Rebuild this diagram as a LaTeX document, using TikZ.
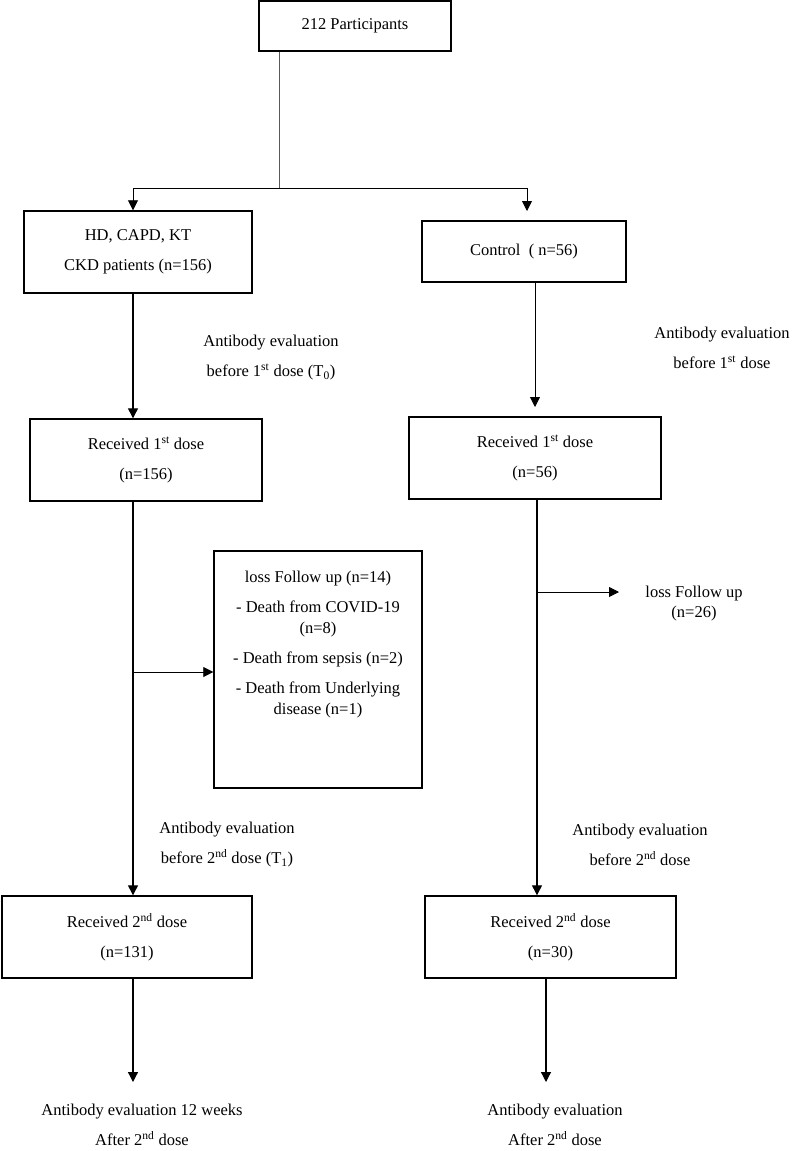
\documentclass[tikz,border=0pt]{standalone}
\usepackage{fontspec}
\setmainfont{Liberation Serif}
\usetikzlibrary{arrows.meta}
\begin{document}
\begin{tikzpicture}[x=1pt,y=-1pt,
  box/.style={draw, line width=1.4pt, inner sep=0pt, align=center, font=\fontsize{16.5}{30}\selectfont},
  lbl/.style={align=center, inner sep=0pt, font=\fontsize{16.5}{30}\selectfont},
  arr/.style={line width=1.2pt, -{Triangle[length=10pt,width=10pt]}},
  tarr/.style={line width=0.8pt, -{Triangle[length=10pt,width=10pt]}},
  ]
\useasboundingbox (0,0) rectangle (792,1151);
% boxes
\node[box, minimum width=192pt, minimum height=50pt] (top) at (355,26) {212 Participants};
\node[box, minimum width=228pt, minimum height=82pt] (hd) at (138,252) {HD, CAPD, KT\\CKD patients (n=156)};
\node[box, minimum width=204pt, minimum height=61pt] (ctrl) at (524,251.5) {Control\ \ ( n=56)};
\node[box, minimum width=232pt, minimum height=82pt] (r1L) at (146,460) {Received 1\textsuperscript{st} dose\\(n=156)};
\node[box, minimum width=252pt, minimum height=82pt] (r1R) at (535,458) {Received 1\textsuperscript{st} dose\\(n=56)};
\node[box, minimum width=208pt, minimum height=237pt] (loss) at (318,669.5) {};
\node[lbl, font=\fontsize{16.5}{21}\selectfont] (losstext) at (318,645) {loss Follow up (n=14)\\[9pt]- Death from COVID-19\\(n=8)\\[9pt]- Death from sepsis (n=2)\\[9pt]- Death from Underlying\\disease (n=1)};
\node[box, minimum width=250pt, minimum height=82pt] (r2L) at (127,937) {Received 2\textsuperscript{nd} dose\\(n=131)};
\node[box, minimum width=251pt, minimum height=82pt] (r2R) at (550.5,937) {Received 2\textsuperscript{nd} dose\\(n=30)};
% free labels
\node[lbl] (ab1L) at (271,358) {Antibody evaluation\\before 1\textsuperscript{st} dose (T\textsubscript{0})};
\node[lbl] (ab1R) at (722,348) {Antibody evaluation\\before 1\textsuperscript{st} dose};
\node[lbl, font=\fontsize{16.5}{20}\selectfont] (lossR) at (694,604) {loss Follow up\\(n=26)};
\node[lbl] (ab2L) at (227,845) {Antibody evaluation\\before 2\textsuperscript{nd} dose (T\textsubscript{1})};
\node[lbl] (ab2R) at (640,845) {Antibody evaluation\\before 2\textsuperscript{nd} dose};
\node[lbl] (endL) at (142,1125) {Antibody evaluation 12 weeks\\After 2\textsuperscript{nd} dose};
\node[lbl] (endR) at (555,1125) {Antibody evaluation\\After 2\textsuperscript{nd} dose};
% coordinates
\coordinate (split) at (279,188);
\coordinate (colL) at (133,0);
\coordinate (colR) at (537,0);
\coordinate (ctrlTip) at (527,211);
\coordinate (r1RTip) at (535,407);
\coordinate (branchL) at (133,672);
\coordinate (branchR) at (537,592);
\coordinate (lossRTip) at (619,592);
\coordinate (endLTip) at (133,1082);
\coordinate (endRTip) at (546,1082);
% connectors
\draw[line width=0.8pt, black!65] (top.south -| split) -- (split);
\draw[tarr] (split) -| (hd.north -| colL);
\draw[tarr] (split) -| (ctrlTip);
\draw[arr] (hd.south -| colL) -- (r1L.north -| colL);
\draw[tarr] (ctrl.south -| r1RTip) -- (r1RTip);
\draw[arr] (r1L.south -| colL) -- (r2L.north -| colL);
\draw[tarr] (branchL) -- (loss.west |- branchL);
\draw[arr] (r1R.south -| colR) -- (r2R.north -| colR);
\draw[tarr] (branchR) -- (lossRTip);
\draw[arr] (r2L.south -| endLTip) -- (endLTip);
\draw[arr] (r2R.south -| endRTip) -- (endRTip);
\end{tikzpicture}
\end{document}
